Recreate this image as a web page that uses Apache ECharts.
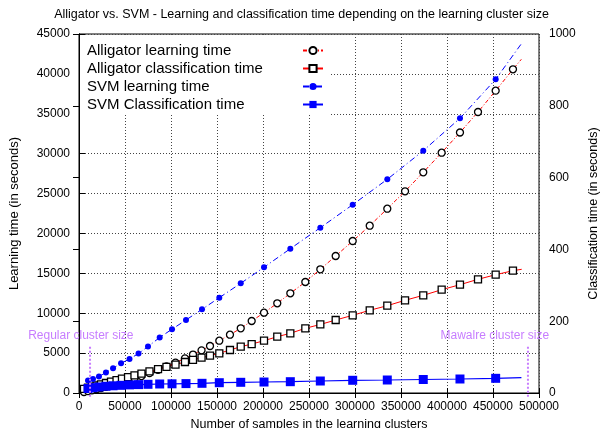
<!DOCTYPE html>
<html>
<head>
<meta charset="utf-8">
<script src="https://cdn.jsdelivr.net/npm/echarts@6/dist/echarts.min.js"></script>
<style>
  html, body { margin: 0; padding: 0; background: #fff; overflow: hidden; }
  #chart { width: 603px; height: 428px; }
</style>
</head>
<body>
<div id="chart"></div>
<script>
// Learning-cluster sizes (number of samples) used for the Alligator runs
const alligatorSamples = [5400, 9800, 14100, 19000, 23900, 29300, 34800, 40800, 46700, 53300,
  60300, 67900, 76600, 85900, 95100, 104900, 115200, 123900, 133200, 142400,
  152500, 164100, 175800, 187700, 201100, 215500, 229700, 246000, 262300, 279000,
  297500, 316000, 335100, 354400, 374200, 394200, 414100, 433700, 452900, 471700];
// Alligator learning time (s)
const alligatorLearning = [123, 230, 339, 469, 606, 764, 933, 1127, 1328, 1563,
  1826, 2126, 2489, 2899, 3328, 3810, 4345, 4820, 5349, 5891,
  6556, 7308, 8110, 9025, 10066, 11244, 12497, 13914, 15506, 17173,
  19053, 20971, 23102, 25283, 27665, 30122, 32654, 35223, 37894, 40576];
// Alligator classification time (s)
const alligatorClassification = [11.7, 14.7, 17.6, 20.9, 24.3, 27.9, 31.7, 35.7, 39.8, 44.2,
  49.0, 54.2, 60.1, 66.4, 72.7, 79.3, 86.3, 92.3, 98.6, 104.0,
  110.6, 119.8, 128.9, 136.4, 145.7, 156.8, 166.3, 180.2, 190.9, 203.3,
  216.4, 230.4, 243.2, 258.2, 272.1, 287.7, 301.7, 316.7, 329.5, 340.7];

// Learning-cluster sizes used for the SVM runs
const svmSamples = [9800, 15200, 21700, 29300, 37000, 45700, 54900, 64700, 75000, 87700,
  101100, 116300, 133700, 152500, 175800, 201100, 229700, 262300, 297500, 335100,
  374200, 414100, 452900];
// SVM learning time (s)
const svmLearning = [1567, 1755, 2068, 2570, 3096, 3723, 4262, 4951, 5829, 6957,
  7997, 9151, 10492, 11946, 13751, 15757, 18088, 20720, 23603, 26787,
  30372, 34434, 39323];
// SVM classification time (s)
const svmClassification = [12.5, 14.8, 16.7, 18.7, 20.1, 21.4, 22.6, 23.4, 24.2, 25.1,
  25.6, 26.2, 27.0, 28.7, 29.8, 30.6, 31.5, 33.4, 35.4, 36.2,
  37.6, 39.0, 40.9];

// End points of the fitted curves (they run a little past the last sample)
const alligatorLearningFitEnd = [480800, 41830];
const alligatorClassificationFitEnd = [481200, 344.6];
const svmLearningFitEnd = [481200, 43835];
const svmClassificationFitEnd = [480900, 42.6];

// Reference cluster sizes
const regularClusterSize = 12000;
const mawalreClusterSize = 488000;

const seriesNames = ['Alligator learning time', 'Alligator classification time',
  'SVM learning time', 'SVM Classification time'];

const xTicks = { min: 0, max: 500000, interval: 50000 };
const yLeftTicks = { min: 0, max: 45000, interval: 5000 };
const yRightTicks = { min: 0, max: 1000, interval: 200 };

const FONT = 'Liberation Sans, Arial, Helvetica, sans-serif';

function pairs(xs, ys, tail) {
  const out = xs.map((x, i) => [x, ys[i]]);
  out.push({ value: tail, symbol: 'none' });
  return out;
}

const chart = echarts.init(document.getElementById('chart'), null, { renderer: 'canvas' });

const gridLine = { show: true, lineStyle: { color: '#444', type: [1, 2], width: 1 } };

const option = {
  animation: false,
  backgroundColor: '#fff',
  textStyle: { fontFamily: FONT },
  title: {
    text: 'Alligator vs. SVM - Learning and classification time depending on the learning cluster size',
    left: 'center', top: 3,
    textStyle: { fontFamily: FONT, fontSize: 12.5, fontWeight: 'normal', color: '#000' }
  },
  grid: {
    left: 79, right: 64, top: 34, bottom: 35, containLabel: false, outerBoundsMode: 'none',
    show: true, borderColor: '#000', borderWidth: 1, backgroundColor: 'transparent'
  },
  legend: {
    left: 80, top: 35, orient: 'vertical', align: 'right',
    padding: [8, 5, 3, 7], itemGap: 3, itemWidth: 20, itemHeight: 9,
    backgroundColor: '#fff',
    data: seriesNames,
    formatter: name => '{t|' + name + '}',
    textStyle: {
      fontFamily: FONT, fontSize: 15, color: '#000',
      rich: { t: { width: 211, align: 'left', fontFamily: FONT, fontSize: 15, color: '#000', lineHeight: 15 } }
    }
  },
  xAxis: [{
    type: 'value', min: xTicks.min, max: xTicks.max, interval: xTicks.interval,
    name: 'Number of samples in the learning clusters', nameLocation: 'middle', nameGap: 21,
    nameTextStyle: { fontFamily: FONT, fontSize: 12.5, color: '#000' },
    axisLine: { show: true, lineStyle: { color: '#000', width: 1 } },
    axisTick: { show: true, inside: true, length: 5, lineStyle: { color: '#000' } },
    axisLabel: { color: '#000', fontSize: 12, fontFamily: FONT, margin: 8, formatter: v => String(v) },
    splitLine: gridLine
  }, {
    type: 'value', position: 'top', min: xTicks.min, max: xTicks.max, interval: xTicks.interval,
    axisLine: { show: false },
    axisTick: { show: true, inside: true, length: 5, lineStyle: { color: '#000' } },
    axisLabel: { show: false }, splitLine: { show: false }
  }],
  yAxis: [{
    type: 'value', position: 'left', min: yLeftTicks.min, max: yLeftTicks.max, interval: yLeftTicks.interval,
    name: 'Learning time (in seconds)', nameLocation: 'middle', nameGap: 58,
    nameTextStyle: { fontFamily: FONT, fontSize: 13, color: '#000' },
    axisLine: { show: true, lineStyle: { color: '#000', width: 1 } },
    axisTick: { show: true, inside: true, length: 6, lineStyle: { color: '#000' } },
    axisLabel: { color: '#000', fontSize: 12, fontFamily: FONT, margin: 9, formatter: v => String(v) },
    splitLine: gridLine
  }, {
    type: 'value', position: 'right', min: yRightTicks.min, max: yRightTicks.max, interval: yRightTicks.interval,
    name: 'Classification time (in seconds)', nameLocation: 'middle', nameGap: 43,
    nameTextStyle: { fontFamily: FONT, fontSize: 12.5, color: '#000' },
    axisLine: { show: true, lineStyle: { color: '#000', width: 1 } },
    axisTick: { show: true, inside: true, length: 6, lineStyle: { color: '#000' } },
    axisLabel: { color: '#000', fontSize: 12, fontFamily: FONT, margin: 10, formatter: v => String(v) },
    splitLine: { show: false }
  }],
  series: [{
    name: seriesNames[0], type: 'line', xAxisIndex: 0, yAxisIndex: 0,
    data: pairs(alligatorSamples, alligatorLearning, alligatorLearningFitEnd),
    symbol: 'circle', symbolSize: 7, showAllSymbol: true,
    itemStyle: { color: '#fff', borderColor: '#000', borderWidth: 1.3 },
    lineStyle: { color: '#ff0000', width: 1, type: [4, 2, 1, 2] }
  }, {
    name: seriesNames[1], type: 'line', xAxisIndex: 0, yAxisIndex: 1,
    data: pairs(alligatorSamples, alligatorClassification, alligatorClassificationFitEnd),
    symbol: 'rect', symbolSize: 7, showAllSymbol: true,
    itemStyle: { color: '#fff', borderColor: '#000', borderWidth: 1.3 },
    lineStyle: { color: '#ff0000', width: 1 }
  }, {
    name: seriesNames[2], type: 'line', xAxisIndex: 0, yAxisIndex: 0,
    data: pairs(svmSamples, svmLearning, svmLearningFitEnd),
    symbol: 'circle', symbolSize: 6, showAllSymbol: true,
    itemStyle: { color: '#0000ff', borderColor: '#0000ff', borderWidth: 0 },
    lineStyle: { color: '#0000ff', width: 1, type: [6, 3, 1, 3] }
  }, {
    name: seriesNames[3], type: 'line', xAxisIndex: 0, yAxisIndex: 1,
    data: pairs(svmSamples, svmClassification, svmClassificationFitEnd),
    symbol: 'rect', symbolSize: 9, showAllSymbol: true,
    itemStyle: { color: '#0000ff', borderColor: '#0000ff', borderWidth: 0 },
    lineStyle: { color: '#0000ff', width: 1.2 }
  }]
};

chart.setOption(option);

// Cluster-size markers: dotted violet stems with captions, placed through the axis scales
const markerColor = '#c77dff';
function clusterMarker(size, caption, captionCenter) {
  const top = chart.convertToPixel({ xAxisIndex: 0, yAxisIndex: 0 }, [size, 5800]);
  const bottom = chart.convertToPixel({ xAxisIndex: 0, yAxisIndex: 0 }, [size, -600]);
  const textPos = chart.convertToPixel({ xAxisIndex: 0, yAxisIndex: 0 }, [captionCenter, 7150]);
  return [{
    type: 'line', z: 50,
    shape: { x1: top[0], y1: top[1], x2: bottom[0], y2: bottom[1] },
    style: { stroke: markerColor, lineWidth: 2, lineDash: [2, 2] }
  }, {
    type: 'text', z: 50, x: textPos[0], y: textPos[1],
    style: { text: caption, fill: markerColor, font: '12px ' + FONT, align: 'center', verticalAlign: 'middle' }
  }];
}

chart.setOption({
  graphic: [].concat(
    clusterMarker(regularClusterSize, 'Regular cluster size', 2000),
    clusterMarker(mawalreClusterSize, 'Mawalre cluster size', 452000)
  )
});
</script>
</body>
</html>
